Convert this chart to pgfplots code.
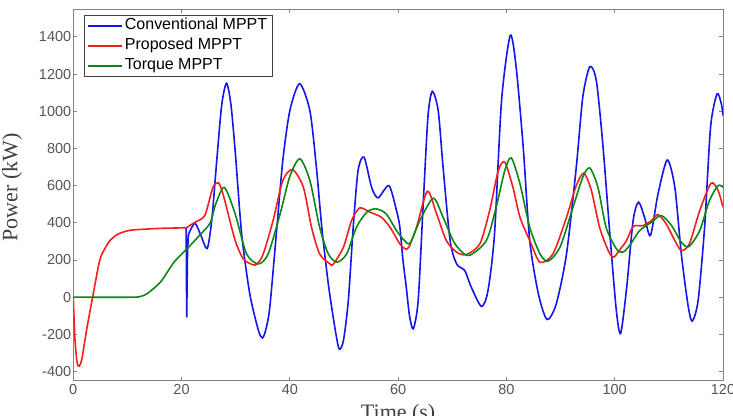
\documentclass[border=0pt]{standalone}
\usepackage{fontspec}
\setmainfont{Liberation Serif}
\setsansfont{Liberation Sans}
\usepackage{pgfplots}
\pgfplotsset{compat=1.18}
\definecolor{cblue}{RGB}{20,20,235}
\definecolor{cred}{RGB}{245,30,30}
\definecolor{cgreen}{RGB}{10,135,20}
\definecolor{tickgray}{RGB}{85,85,85}
\definecolor{axgray}{RGB}{130,130,130}
\begin{document}
\begin{tikzpicture}
\begin{axis}[
  scale only axis,
  width=650pt, height=372pt,
  xmin=0, xmax=120, ymin=-450, ymax=1550,
  xtick={0,20,...,120},
  ytick={-400,-200,...,1400},
  tick align=inside,
  major tick length=4pt,
  axis line style={axgray, line width=0.9pt},
  every tick/.style={axgray, line width=0.8pt},
  /pgf/number format/assume math mode=true,
  /pgf/number format/set thousands separator={},
  ticklabel style={font=\sffamily\fontsize{14.5}{16}\selectfont, text=tickgray},
  xticklabel style={yshift=0pt},
  yticklabel style={xshift=1.5pt},
  xlabel={Time (s)},
  ylabel={Power (kW)},
  label style={font=\rmfamily\fontsize{22}{25}\selectfont, text=black!75},
  xlabel style={at={(axis description cs:0.5,-0.054)}, anchor=north},
  ylabel style={at={(axis description cs:-0.094,0.52)}, anchor=center},
  legend style={
    at={(axis description cs:0.0165,0.984)}, anchor=north west,
    draw=black!75, line width=0.7pt,
    font=\sffamily\fontsize{16}{18}\selectfont,
    inner xsep=3pt, inner ysep=1pt,
    row sep=1pt,
    nodes={inner sep=2pt, text height=11.5pt, text depth=3.5pt},
    cells={anchor=west}},
  legend image code/.code={\draw[#1] (0pt,0pt) -- (34pt,0pt);},
  every axis plot/.append style={line width=1.6pt},
]
\addplot[cblue, smooth, tension=0.45] coordinates {
(21.3,340) (22.47,398) (23.6,330) (24.74,262)
(25.6,420) (26.4,699) (27.4,1030) (28.3,1150) (29.1,1040) (29.9,788) (31.1,340) (32.6,18)
(34.2,-179) (34.96,-219) (35.6,-170) (36.3,-54) (37.5,340) (38.7,735) (40.0,1003) (41.8,1148)
(43.7,1003) (44.9,699) (45.9,376) (47.1,72) (48.3,-161) (49.1,-278) (49.9,-233) (50.8,-18)
(51.7,376) (52.6,681) (53.7,753) (55.1,591) (56.3,534) (58.3,600) (59.7,466) (60.3,380)
(60.9,197) (61.5,54) (62.1,-100) (62.8,-170) (63.7,-18) (64.6,484) (65.5,968) (66.3,1107)
(67.4,1003) (68.3,699) (69.6,305) (70.8,179) (72.3,143) (73.5,54) (75.4,-50) (76.6,36)
(77.8,340) (79.1,1057) (80.7,1407) (81.8,1236) (83.1,806) (84.3,305) (85.9,18) (87.5,-120)
(89.2,-36) (91.1,233) (92.9,699) (94.1,1075) (95.4,1240) (96.6,1165) (97.8,824) (99.1,340)
(100.3,-72) (101.1,-194) (102.2,50) (103.4,412) (104.4,511) (105.5,430) (106.6,332) (108.0,556)
(109.7,738) (111.1,591) (112.3,233) (113.5,-36) (114.3,-129) (115.4,-18) (116.6,376) (117.7,914)
(118.9,1093) (119.7,1039) (120,977)
};
\addlegendentry{Conventional MPPT}
\addplot[cblue, forget plot] coordinates {
(20.85,372) (20.95,-108) (21.1,240) (21.2,300) (21.3,340)
};
\addplot[cred, smooth, tension=0.45] coordinates {
(0,0) (0.3,-220) (0.7,-350) (1.1,-371) (1.6,-330) (2.5,-170) (3.58,0) (4.9,200) (6.0,270)
(6.8,305) (8.0,335) (9.2,350) (10.5,360) (12.2,364) (16,370) (20.3,373) (21.0,375) (21.5,385)
(22.5,403) (24.3,440) (25.8,591) (26.8,615) (27.5,570) (28.3,484) (29.9,305) (31.4,206)
(33.2,174) (34.0,180) (35.1,233) (36.9,412) (38.7,627) (40.5,686) (42.5,591) (44.0,376)
(45.5,233) (47.4,179) (48.0,176) (49.9,269) (51.4,412) (52.9,480) (54.8,457) (56.9,430)
(58.5,376) (60.3,287) (61.3,260) (62.0,270) (63.4,376) (65.4,570) (67.1,448) (68.9,305)
(70.8,242) (72.6,229) (75.1,287) (76.9,466) (78.5,681) (79.7,726) (81.2,591) (82.5,430)
(84.3,305) (86.2,188) (88.6,233) (91.1,430) (92.9,600) (94.3,667) (95.7,573) (97.2,376)
(98.8,251) (99.8,215) (101.2,265) (102.2,305) (103.4,380) (105.2,385) (106.8,412) (108.0,444)
(109.5,394) (111.1,305) (112.3,251) (113.8,287) (115.7,466) (117.8,613) (119.1,573) (120,484)
};
\addlegendentry{Proposed MPPT}
\addplot[cgreen, smooth, tension=0.45] coordinates {
(0,0) (11,0) (12.5,5) (13.6,18) (16.1,81) (18.6,188) (21.0,260) (23.4,335) (25.3,400)
(26.3,500) (27.9,590) (29.9,448) (32.0,233) (34.2,179) (36.0,233) (38.2,448) (40.0,650)
(41.85,744) (43.7,627) (45.5,376) (47.1,233) (48.7,188) (50.5,233) (52.3,376) (54.2,457)
(55.9,475) (57.8,448) (59.7,358) (61.0,310) (62.2,290) (64.0,412) (66.5,532) (68.3,430)
(70.5,287) (73.0,224) (76.3,305) (78.1,484) (79.7,681) (80.9,749) (82.5,610) (84.3,376)
(86.2,233) (87.7,194) (89.9,269) (92.3,484) (94.1,645) (95.4,695) (96.9,591) (98.4,376)
(100.3,260) (101.5,242) (102.8,280) (104.6,358) (106.8,403) (108.6,439) (110.5,385) (112.3,296)
(113.7,272) (115.7,358) (117.5,520) (119.1,600) (120,591)
};
\addlegendentry{Torque MPPT}
\end{axis}
\pgfresetboundingbox
\path ([shift={(-73.3pt,-35pt)}]current axis.south west) rectangle ([shift={(10pt,9pt)}]current axis.north east);
\end{tikzpicture}
\end{document}
